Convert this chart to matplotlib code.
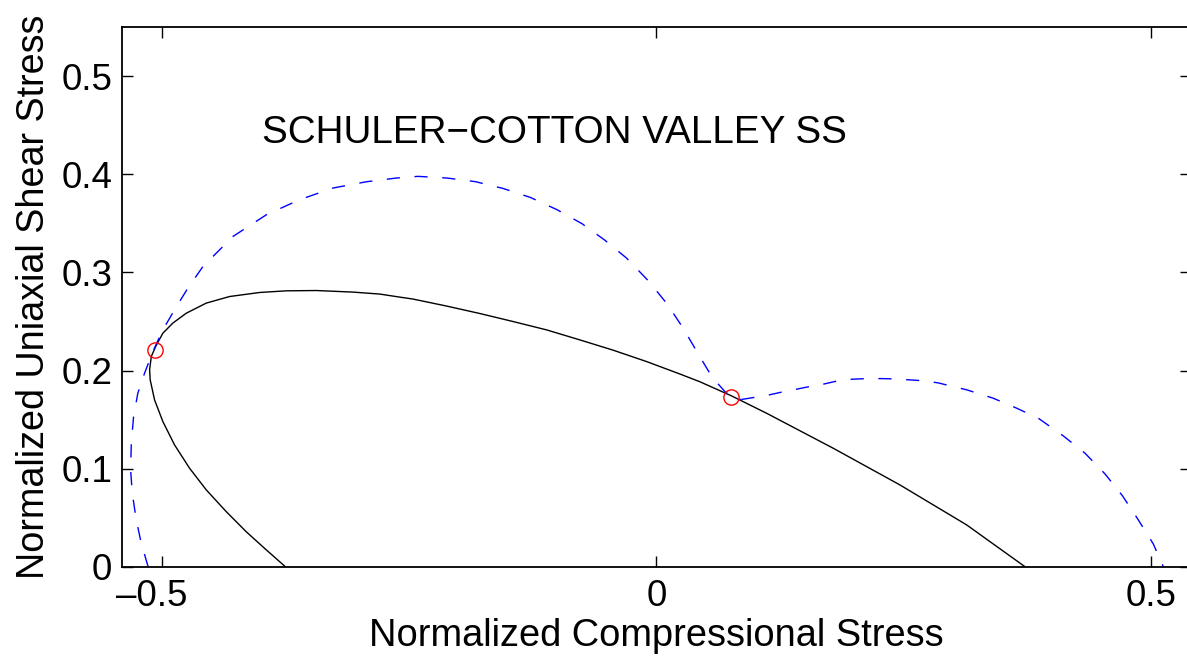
import matplotlib
matplotlib.use("Agg")
import matplotlib.pyplot as plt

plt.rcParams['font.family'] = ['Liberation Sans', 'DejaVu Sans']
plt.rcParams['lines.scale_dashes'] = False

# Black solid failure envelope
black_x = [-0.3749, -0.394, -0.4145, -0.4346, -0.4548, -0.4717, -0.4869, -0.4987, -0.5071,
           -0.5115, -0.5121, -0.5104, -0.506, -0.4987, -0.4886, -0.475, -0.4548, -0.4312,
           -0.4009, -0.3739, -0.3436, -0.3066, -0.2796, -0.2594, -0.2459, -0.2121, -0.1785,
           -0.1448, -0.111, -0.0774, -0.0437, -0.0099, 0.0238, 0.044, 0.076, 0.1114,
           0.1788, 0.2462, 0.3137, 0.3726]
black_y = [0.0, 0.017, 0.0357, 0.0561, 0.0783, 0.1004, 0.1242, 0.148, 0.1701,
           0.1905, 0.2007, 0.2143, 0.2245, 0.2381, 0.2484, 0.2585, 0.2688, 0.2755,
           0.2796, 0.2813, 0.2816, 0.28, 0.278, 0.2749, 0.2729, 0.2658, 0.2582,
           0.25, 0.2415, 0.2313, 0.2208, 0.2092, 0.1965, 0.1886, 0.1742, 0.1565,
           0.1208, 0.0834, 0.0426, 0.0]

# Blue dashed envelope, left lobe
blue_left_x = [-0.5136, -0.5205, -0.5256, -0.5296, -0.5313, -0.5306, -0.5283, -0.524, -0.5172,
               -0.5088, -0.4987, -0.4869, -0.4734, -0.4582, -0.4279, -0.394, -0.3605, -0.3268,
               -0.293, -0.2627, -0.2408, -0.2115, -0.1828, -0.1549, -0.1272,
               -0.1003, -0.075, -0.0521, -0.0301, -0.0083, 0.0109, 0.0271, 0.0413, 0.0564,
               0.0693, 0.0819, 0.086]
blue_left_y = [0.0, 0.0238, 0.0477, 0.0749, 0.0987, 0.1259, 0.1531, 0.1769, 0.1973,
               0.2194, 0.2415, 0.2619, 0.2841, 0.3061, 0.3367, 0.3589, 0.3742, 0.3861,
               0.3925, 0.3963, 0.398, 0.3963, 0.3926, 0.3857, 0.3765,
               0.364, 0.3497, 0.333, 0.3147, 0.2918, 0.268, 0.2433, 0.2188, 0.1933,
               0.1786, 0.1704, 0.1705]

# Blue dashed envelope, right lobe
blue_right_x = [0.086, 0.0976, 0.1127, 0.1266, 0.1418, 0.155, 0.170, 0.1846, 0.1984, 0.2125,
                0.2277, 0.243, 0.256, 0.2715, 0.285, 0.30, 0.314, 0.327, 0.340, 0.3625,
                0.3861, 0.4113, 0.4333, 0.4535, 0.471, 0.4861, 0.5023, 0.5124]
blue_right_y = [0.1705, 0.1724, 0.1749, 0.178, 0.181, 0.1837, 0.1864, 0.1898, 0.1912, 0.1918,
                0.1918, 0.1914, 0.1905, 0.1895, 0.1874, 0.1837, 0.1803, 0.176, 0.172, 0.1624,
                0.1514, 0.1334, 0.1157, 0.0946, 0.0725, 0.0494, 0.0232, 0.0]

# Red circle markers (intersection points)
pts_x = [-0.5071, 0.0758]
pts_y = [0.2211, 0.1735]

x_ticks = [-0.5, 0, 0.5]
x_ticklabels = ['\u20130.5  ', '0', '0.5']
y_ticks = [0, 0.1, 0.2, 0.3, 0.4, 0.5]
y_ticklabels = ['0', '0.1', '0.2', '0.3', '0.4', '0.5']

fig = plt.figure(figsize=(11.87, 6.59), dpi=100)
ax = fig.add_axes([122/1187, 1 - 566.7/659, (1190.6 - 122)/1187, (566.7 - 27.3)/659])

ax.plot(black_x, black_y, color='black', lw=1.0)
ax.plot(blue_left_x, blue_left_y, color='blue', lw=1.0, dashes=(9.5, 10.5))
ax.plot(blue_right_x, blue_right_y, color='blue', lw=1.0, dashes=(9.5, 10.5))
ax.plot(pts_x, pts_y, 'o', ms=11, mfc='none', mec='red', mew=1.0)

ax.set_xlim(-0.54, 0.54)
ax.set_ylim(0, 0.55)
ax.set_xticks(x_ticks)
ax.set_xticklabels(x_ticklabels)
ax.set_yticks(y_ticks)
ax.set_yticklabels(y_ticklabels)
ax.tick_params(direction='in', length=7.6, width=1.0, labelsize=26.5,
               top=True, right=True, pad=7)
ax.tick_params(axis='x', pad=9)
for s in ax.spines.values():
    s.set_linewidth(1.3)

ax.set_xlabel('Normalized Compressional Stress', fontsize=27.4, labelpad=3)
ax.set_ylabel('Normalized Uniaxial Shear Stress', fontsize=27.2, labelpad=7)

ax.text(-0.399, 0.432, 'SCHULER\u2212COTTON VALLEY SS', fontsize=27.8, ha='left', va='baseline')

fig.savefig('out.png', dpi=100)
